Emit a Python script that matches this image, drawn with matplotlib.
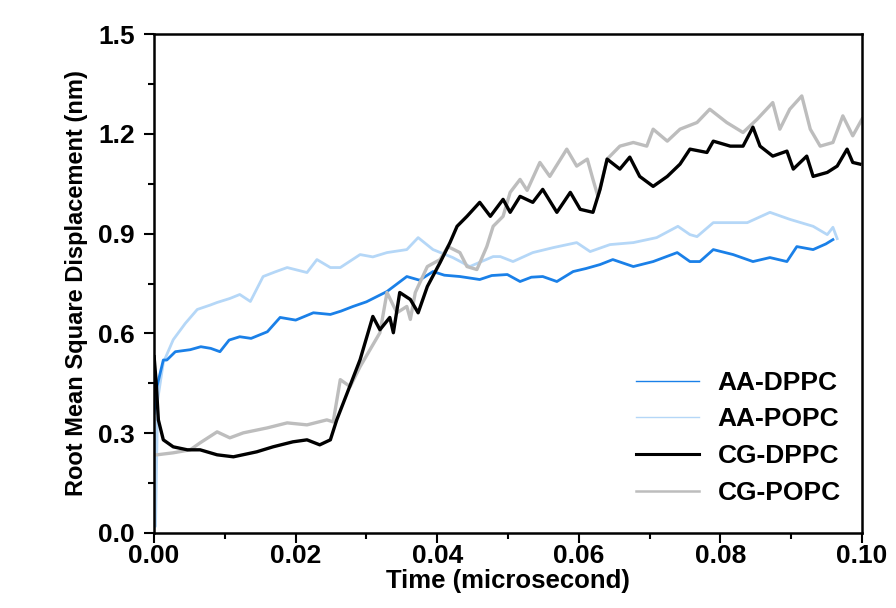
import matplotlib
matplotlib.use("Agg")
import matplotlib.pyplot as plt
from matplotlib.lines import Line2D
from matplotlib.ticker import MultipleLocator, FormatStrFormatter

plt.rcParams['font.family'] = ['Liberation Sans', 'DejaVu Sans']
plt.rcParams['font.weight'] = 'bold'

# AA-DPPC
aa_dppc_t = [0.0, 0.0004, 0.0013, 0.0018, 0.0030, 0.0051, 0.0066, 0.0080, 0.0093, 0.0106,
             0.0121, 0.0137, 0.0160, 0.0178, 0.0200, 0.0225, 0.0249, 0.0264, 0.0281, 0.0300,
             0.0329, 0.0357, 0.0375, 0.0394, 0.0410, 0.0432, 0.0460, 0.0477, 0.0499, 0.0517,
             0.0533, 0.0549, 0.0569, 0.0592, 0.0610, 0.0630, 0.0648, 0.0677, 0.0705, 0.0739,
             0.0757, 0.0771, 0.0790, 0.0818, 0.0846, 0.0870, 0.0894, 0.0908, 0.0931, 0.0949,
             0.0959]
aa_dppc_y = [0.36, 0.44, 0.52, 0.52, 0.545, 0.551, 0.560, 0.555, 0.545, 0.580,
             0.590, 0.585, 0.605, 0.648, 0.640, 0.662, 0.657, 0.667, 0.681, 0.695,
             0.726, 0.771, 0.760, 0.786, 0.775, 0.771, 0.762, 0.774, 0.777, 0.756,
             0.769, 0.771, 0.756, 0.786, 0.795, 0.807, 0.822, 0.801, 0.816, 0.843,
             0.816, 0.816, 0.852, 0.837, 0.816, 0.828, 0.816, 0.861, 0.852, 0.869,
             0.882]

# AA-POPC
aa_popc_t = [0.0, 0.0002, 0.0005, 0.0010, 0.0013, 0.0027, 0.0044, 0.0061, 0.0079, 0.0089,
             0.0107, 0.0121, 0.0136, 0.0154, 0.0171, 0.0188, 0.0216, 0.0230, 0.0249, 0.0263,
             0.0291, 0.0309, 0.0329, 0.0357, 0.0373, 0.0394, 0.0422, 0.0446, 0.0479, 0.0489,
             0.0507, 0.0535, 0.0564, 0.0597, 0.0616, 0.0644, 0.0677, 0.0710, 0.0740, 0.0757,
             0.0767, 0.0790, 0.0838, 0.0870, 0.0898, 0.0931, 0.0951, 0.0959, 0.0965]
aa_popc_y = [0.30, 0.02, 0.40, 0.47, 0.512, 0.581, 0.630, 0.672, 0.685, 0.693,
             0.705, 0.717, 0.696, 0.771, 0.785, 0.798, 0.783, 0.822, 0.798, 0.798,
             0.837, 0.830, 0.843, 0.852, 0.888, 0.852, 0.828, 0.801, 0.831, 0.831,
             0.816, 0.843, 0.858, 0.873, 0.846, 0.867, 0.873, 0.888, 0.922, 0.897,
             0.891, 0.933, 0.933, 0.964, 0.943, 0.922, 0.897, 0.919, 0.885]

# CG-DPPC
cg_dppc_t = [0.0, 0.0003, 0.0006, 0.0013, 0.0027, 0.0047, 0.0065, 0.0089, 0.0112, 0.0145,
             0.0168, 0.0196, 0.0216, 0.0234, 0.0249, 0.0258, 0.0273, 0.0291, 0.0309, 0.0319,
             0.0333, 0.0338, 0.0347, 0.0362, 0.0373, 0.0386, 0.0404, 0.0418, 0.0428, 0.0442,
             0.0460, 0.0475, 0.0493, 0.0503, 0.0517, 0.0535, 0.0549, 0.0569, 0.0588, 0.0602,
             0.0620, 0.0630, 0.0640, 0.0658, 0.0672, 0.0686, 0.0705, 0.0725, 0.0743, 0.0757,
             0.0781, 0.0790, 0.0814, 0.0832, 0.0846, 0.0856, 0.0874, 0.0894, 0.0903, 0.0922,
             0.0931, 0.0951, 0.0965, 0.0979, 0.0987, 0.0997]
cg_dppc_y = [0.53, 0.45, 0.34, 0.28, 0.259, 0.250, 0.250, 0.235, 0.229, 0.244,
             0.259, 0.274, 0.280, 0.265, 0.280, 0.340, 0.422, 0.521, 0.651, 0.611,
             0.648, 0.602, 0.723, 0.702, 0.662, 0.741, 0.813, 0.873, 0.922, 0.952,
             0.994, 0.952, 1.003, 0.964, 1.012, 0.994, 1.033, 0.964, 1.024, 0.973,
             0.964, 1.033, 1.124, 1.094, 1.130, 1.072, 1.042, 1.072, 1.109, 1.154,
             1.144, 1.178, 1.163, 1.163, 1.220, 1.163, 1.133, 1.148, 1.094, 1.133,
             1.072, 1.084, 1.103, 1.154, 1.114, 1.109]

# CG-POPC
cg_popc_t = [0.0, 0.0004, 0.0027, 0.0051, 0.0065, 0.0089, 0.0107, 0.0126, 0.0160, 0.0188,
             0.0216, 0.0244, 0.0253, 0.0263, 0.0277, 0.0291, 0.0305, 0.0319, 0.0329, 0.0343,
             0.0357, 0.0362, 0.0369, 0.0386, 0.0404, 0.0415, 0.0432, 0.0442, 0.0456, 0.0470,
             0.0479, 0.0493, 0.0503, 0.0517, 0.0527, 0.0545, 0.0559, 0.0583, 0.0597, 0.0612,
             0.0620, 0.0627, 0.0640, 0.0658, 0.0677, 0.0696, 0.0705, 0.0725, 0.0743, 0.0767,
             0.0785, 0.0809, 0.0832, 0.0852, 0.0874, 0.0884, 0.0898, 0.0915, 0.0927, 0.0941,
             0.0959, 0.0973, 0.0987, 0.1000]
cg_popc_y = [0.235, 0.235, 0.241, 0.250, 0.271, 0.304, 0.286, 0.301, 0.316, 0.331,
             0.325, 0.340, 0.334, 0.461, 0.440, 0.500, 0.551, 0.602, 0.723, 0.662,
             0.681, 0.642, 0.723, 0.801, 0.822, 0.861, 0.843, 0.801, 0.792, 0.861,
             0.922, 0.952, 1.024, 1.063, 1.030, 1.114, 1.072, 1.154, 1.103, 1.124,
             1.063, 1.012, 1.124, 1.163, 1.174, 1.163, 1.214, 1.178, 1.214, 1.234,
             1.274, 1.234, 1.204, 1.244, 1.294, 1.214, 1.274, 1.314, 1.214, 1.163,
             1.174, 1.254, 1.194, 1.244]

labels = ['AA-DPPC', 'AA-POPC', 'CG-DPPC', 'CG-POPC']
colors = ['#1a80e8', '#b5d7f7', '#000000', '#bdbdbd']

fig = plt.figure(figsize=(8.96, 6.08), dpi=100)
ax = fig.add_axes([0.172, 0.1234, 0.790, 0.8206])

ax.plot(aa_popc_t, aa_popc_y, color=colors[1], lw=2.0)
ax.plot(aa_dppc_t, aa_dppc_y, color=colors[0], lw=2.0)
ax.plot(cg_popc_t, cg_popc_y, color=colors[3], lw=2.4)
ax.plot(cg_dppc_t, cg_dppc_y, color=colors[2], lw=2.4)

ax.set_xlim(0, 0.10)
ax.set_ylim(0, 1.5)
ax.xaxis.set_major_locator(MultipleLocator(0.02))
ax.xaxis.set_minor_locator(MultipleLocator(0.01))
ax.yaxis.set_major_locator(MultipleLocator(0.3))
ax.yaxis.set_minor_locator(MultipleLocator(0.15))
ax.xaxis.set_major_formatter(FormatStrFormatter('%.2f'))
ax.yaxis.set_major_formatter(FormatStrFormatter('%.1f'))

for s in ax.spines.values():
    s.set_linewidth(1.8)
ax.tick_params(which='major', direction='out', length=7, width=1.5, labelsize=19)
ax.tick_params(axis='y', which='major', pad=7)
ax.tick_params(axis='x', which='major', pad=1)
ax.tick_params(which='minor', direction='out', length=4, width=1.5)
for lab in ax.get_xticklabels() + ax.get_yticklabels():
    lab.set_fontweight('bold')

ax.set_xlabel('Time (microsecond)', fontsize=18.5, fontweight='bold', labelpad=1)
ax.set_ylabel('Root Mean Square Displacement (nm)', fontsize=17, fontweight='bold', labelpad=7)

handles = [Line2D([], [], color=colors[0], lw=1.0),
           Line2D([], [], color=colors[1], lw=1.0),
           Line2D([], [], color=colors[2], lw=2.2),
           Line2D([], [], color=colors[3], lw=1.8)]
ax.legend(handles, labels, loc='upper left', bbox_to_anchor=(0.681, 0.325),
          frameon=False, prop={'size': 19, 'weight': 'bold'},
          handlelength=2.4, handletextpad=0.68, labelspacing=0.48,
          borderpad=0, borderaxespad=0)

fig.savefig('out.png', dpi=100)
